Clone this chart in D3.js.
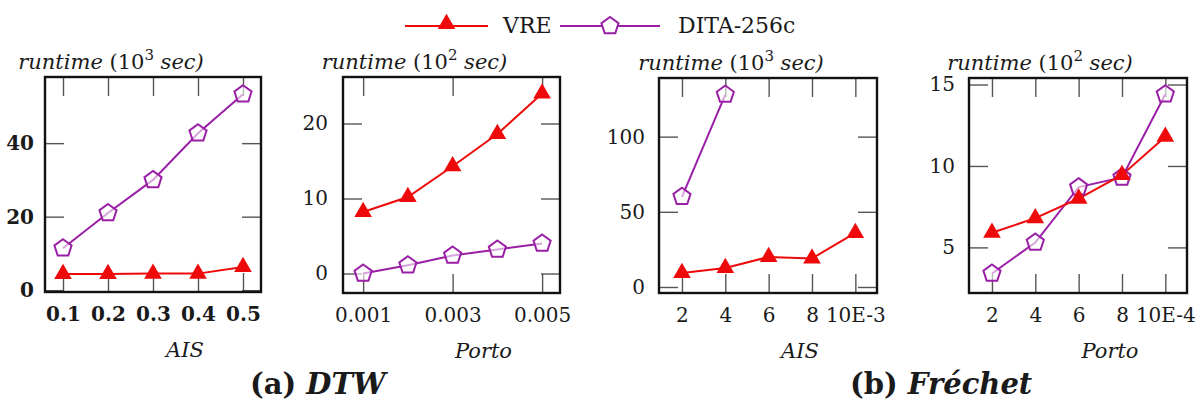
<!DOCTYPE html>
<html>
<head>
<meta charset="utf-8">
<title>VRE vs DITA-256c runtime</title>
<script src="https://cdn.jsdelivr.net/npm/d3@7/dist/d3.min.js"></script>
<style>
  body { margin: 0; background: #fff; }
  svg text { font-family: "DejaVu Serif", serif; fill: #1a1a1a; }
  .tick line { stroke: #555; stroke-width: 1.4px; }
  .frame { fill: none; stroke: #111; stroke-width: 2.4px; }
</style>
</head>
<body>
<div class="container"></div>
<script>

// ---- data ----
var seriesNames = ["VRE", "DITA-256c"];

// (a) DTW, AIS  (10^3 sec)
var xDtwAis = [0.1, 0.2, 0.3, 0.4, 0.5];
var vreDtwAis = [4.4, 4.4, 4.5, 4.5, 6.3];
var ditaDtwAis = [11.4, 21, 30, 42.7, 53.3];

// (a) DTW, Porto  (10^2 sec)
var xDtwPorto = [0.001, 0.002, 0.003, 0.004, 0.005];
var vreDtwPorto = [8.2, 10.2, 14.3, 18.6, 24];
var ditaDtwPorto = [0, 1.1, 2.4, 3.2, 4];

// (b) Frechet, AIS  (10^3 sec)  -- DITA only has two runs
var xFrAis = [2, 4, 6, 8, 10];
var vreFrAis = [9.3, 12.7, 20, 19, 36];
var ditaFrAis = [60, 128];

// (b) Frechet, Porto  (10^2 sec)
var xFrPorto = [2, 4, 6, 8, 10];
var vreFrPorto = [5.9, 6.8, 8.0, 9.45, 11.8];
var ditaFrPorto = [3.4, 5.3, 8.7, 9.3, 14.4];

// tick values / labels
var yTicksDtwAis = [0, 20, 40];
var yTicksDtwPorto = [0, 10, 20];
var yTicksFrAis = [0, 50, 100];
var yTicksFrPorto = [5, 10, 15];
var xTicksDtwPorto = [0.001, 0.003, 0.005];
var xLabelsDtwAis = ["0.1", "0.2", "0.3", "0.4", "0.5"];
var xLabelsDtwPorto = ["0.001", "0.003", "0.005"];
var xLabelsFrAis = ["2", "4", "6", "8", "10E-3"];
var xLabelsFrPorto = ["2", "4", "6", "8", "10E-4"];

var panels = [
  {x: xDtwAis, vre: vreDtwAis, dita: ditaDtwAis, xTicks: xDtwAis, xLabels: xLabelsDtwAis,
   yTicks: yTicksDtwAis, xDom: [0.06, 0.54], yDom: [-0.5, 58], exp: "3", name: "AIS"},
  {x: xDtwPorto, vre: vreDtwPorto, dita: ditaDtwPorto, xTicks: xTicksDtwPorto, xLabels: xLabelsDtwPorto,
   yTicks: yTicksDtwPorto, xDom: [0.00055, 0.0054], yDom: [-2.6, 26.2], exp: "2", name: "Porto"},
  {x: xFrAis, vre: vreFrAis, dita: ditaFrAis, xTicks: xFrAis, xLabels: xLabelsFrAis,
   yTicks: yTicksFrAis, xDom: [0.94, 11.0], yDom: [-4, 139], exp: "3", name: "AIS"},
  {x: xFrPorto, vre: vreFrPorto, dita: ditaFrPorto, xTicks: xFrPorto, xLabels: xLabelsFrPorto,
   yTicks: yTicksFrPorto, xDom: [0.94, 11.0], yDom: [2.2, 15.4], exp: "2", name: "Porto"}
];

// ---- layout ----
var svgWidth = 1201, svgHeight = 401;
var boxes = [
  {left: 45, top: 77, w: 216, h: 215, bold: true, labelGap: 11, ylabShift: -42},
  {left: 343, top: 77, w: 217, h: 216, bold: false, labelGap: 15, ylabShift: -37},
  {left: 659, top: 78, w: 218, h: 215, bold: false, labelGap: 14, ylabShift: -37},
  {left: 969, top: 78, w: 218, h: 215, bold: false, labelGap: 14, ylabShift: -38}
];
var red = "#ee0a0a", purple = "#9a1fa6";
var tickLen = 19;

var pentagon = {
  draw: function(context, size) {
    var r = Math.sqrt(size);
    for (var k = 0; k < 5; k++) {
      var a = -Math.PI / 2 + k * 2 * Math.PI / 5;
      if (k == 0) context.moveTo(r * Math.cos(a), r * Math.sin(a));
      else context.lineTo(r * Math.cos(a), r * Math.sin(a));
    }
    context.closePath();
  }
};
var triSym = d3.symbol().type(d3.symbolTriangle).size(135);
var pentSym = d3.symbol().type(pentagon).size(81);

var svg = d3.select('.container')
  .append('svg')
  .attr('width', svgWidth)
  .attr('height', svgHeight);

panels.forEach(function(p, i) {
  var b = boxes[i];
  var g = svg.append("g").attr("transform", `translate(${b.left},${b.top})`);

  var x = d3.scaleLinear().domain(p.xDom).range([0, b.w]);
  var y = d3.scaleLinear().domain(p.yDom).range([b.h, 0]);

  var fmtX = function(d) { return p.xLabels[p.xTicks.indexOf(d)]; };

  var gb = g.append("g")
    .attr("transform", `translate(0,${b.h})`)
    .call(d3.axisBottom(x).tickValues(p.xTicks).tickFormat(fmtX)
      .tickSizeInner(-tickLen).tickSizeOuter(0).tickPadding(15));
  var gt = g.append("g")
    .call(d3.axisTop(x).tickValues(p.xTicks).tickFormat("")
      .tickSizeInner(-tickLen).tickSizeOuter(0));
  var gl = g.append("g")
    .call(d3.axisLeft(y).tickValues(p.yTicks)
      .tickSizeInner(-tickLen).tickSizeOuter(0).tickPadding(b.labelGap));
  var gr = g.append("g")
    .attr("transform", `translate(${b.w},0)`)
    .call(d3.axisRight(y).tickValues(p.yTicks).tickFormat("")
      .tickSizeInner(-tickLen).tickSizeOuter(0));

  [gb, gt, gl, gr].forEach(function(a) {
    a.select(".domain").remove();
    a.selectAll("text")
      .attr("font-family", "DejaVu Serif")
      .attr("font-size", 20)
      .attr("font-weight", b.bold ? "bold" : "normal")
      .attr("fill", "#1a1a1a");
  });

  // series
  var line = d3.line()
    .x(function(d) { return x(d[0]); })
    .y(function(d) { return y(d[1]); });

  var vrePts = p.vre.map(function(v, j) { return [p.x[j], v]; });
  var ditaPts = p.dita.map(function(v, j) { return [p.x[j], v]; });

  g.append("path").attr("d", line(ditaPts))
    .attr("fill", "none").attr("stroke", purple).attr("stroke-width", 2);
  g.append("path").attr("d", line(vrePts))
    .attr("fill", "none").attr("stroke", red).attr("stroke-width", 2);

  g.selectAll(".pent").data(ditaPts).enter().append("path")
    .attr("class", "pent")
    .attr("d", pentSym)
    .attr("transform", function(d) { return `translate(${x(d[0])},${y(d[1])})`; })
    .attr("fill", "white").attr("fill-opacity", 0.6)
    .attr("stroke", purple).attr("stroke-width", 2);

  g.selectAll(".tri").data(vrePts).enter().append("path")
    .attr("class", "tri")
    .attr("d", triSym)
    .attr("transform", function(d) { return `translate(${x(d[0])},${y(d[1])})`; })
    .attr("fill", red);

  g.append("rect").attr("class", "frame")
    .attr("width", b.w).attr("height", b.h);

  // y label
  var yl = g.append("text")
    .attr("x", b.w / 2 + b.ylabShift)
    .attr("y", -8)
    .attr("text-anchor", "middle")
    .attr("font-size", 21);
  yl.append("tspan").attr("font-style", "italic").text("runtime");
  yl.append("tspan").text(" (10");
  yl.append("tspan").attr("font-size", 15).attr("dy", -9).text(p.exp);
  yl.append("tspan").attr("dy", 9).attr("font-style", "italic").text(" sec)");

  // x label
  g.append("text")
    .attr("x", b.w / 2 + 32)
    .attr("y", b.h + 65)
    .attr("text-anchor", "middle")
    .attr("font-size", 21)
    .attr("font-style", "italic")
    .text(p.name);
});

// captions
var captions = [["(a) ", "DTW", 250], ["(b) ", "Fréchet", 850]];
captions.forEach(function(c) {
  var t = svg.append("text")
    .attr("x", c[2]).attr("y", 394)
    .attr("font-size", 29).attr("font-weight", "bold");
  t.append("tspan").text(c[0]);
  t.append("tspan").attr("font-style", "italic").text(c[1]);
});

// legend
var legend = svg.append("g").attr("class", "legend");
var legItems = [
  {name: seriesNames[0], x0: 405, x1: 488, color: red, sym: triSym, tx: 503},
  {name: seriesNames[1], x0: 560, x1: 660, color: purple, sym: pentSym, tx: 678}
];
legItems.forEach(function(l, i) {
  legend.append("line")
    .attr("x1", l.x0).attr("x2", l.x1).attr("y1", 26).attr("y2", 26)
    .attr("stroke", l.color).attr("stroke-width", 2);
  legend.append("path")
    .attr("d", l.sym)
    .attr("transform", `translate(${(l.x0 + l.x1) / 2},${i == 0 ? 24 : 26})`)
    .attr("fill", i == 0 ? l.color : "white")
    .attr("stroke", i == 0 ? "none" : l.color)
    .attr("stroke-width", 2);
  legend.append("text")
    .attr("x", l.tx).attr("y", 33)
    .attr("font-size", 22)
    .text(l.name);
});

</script>
</body>
</html>
